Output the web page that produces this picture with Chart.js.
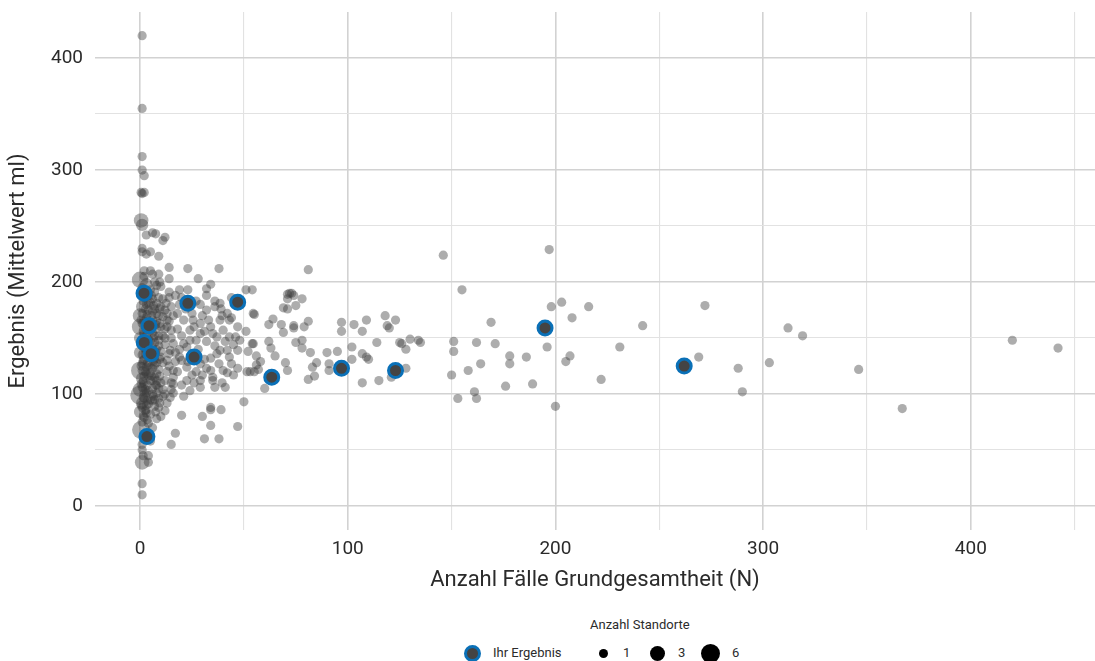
<!DOCTYPE html>
<html lang="de">
<head>
<meta charset="utf-8">
<title>Ergebnis nach Anzahl Fälle</title>
<script src="https://cdn.jsdelivr.net/npm/chart.js@4.4.1/dist/chart.umd.min.js"></script>
<style>
  html, body { margin: 0; padding: 0; background: #fff; }
  #wrap { position: relative; width: 1095px; height: 661px; font-family: Roboto, 'Noto Sans', sans-serif; color: #2b2b2b; }
  #chartBox { position: absolute; left: 0; top: 0; width: 1095px; height: 600px; }
  .lg { position: absolute; font-size: 13px; line-height: 16px; white-space: nowrap; }
  .dot { position: absolute; border-radius: 50%; background: #000; box-sizing: border-box; }
</style>
</head>
<body>
<div id="wrap">
  <div id="chartBox"><canvas id="scatterChart"></canvas></div>
  <div class="lg" style="left:590px; top:617px;">Anzahl Standorte</div>
  <div class="dot" style="left:463.5px; top:644.5px; width:17px; height:17px; background:#444; border:3px solid #0a70b7;"></div>
  <div class="lg" style="left:493px; top:645px;">Ihr Ergebnis</div>
  <div class="dot" style="left:598.5px; top:648.5px; width:9px; height:9px;"></div>
  <div class="lg" style="left:623px; top:645px;">1</div>
  <div class="dot" style="left:649.5px; top:645.5px; width:15px; height:15px;"></div>
  <div class="lg" style="left:678px; top:645px;">3</div>
  <div class="dot" style="left:700.5px; top:643.5px; width:19px; height:19px;"></div>
  <div class="lg" style="left:732px; top:645px;">6</div>
</div>
<script>
// [N, Mittelwert ml, Anzahl Standorte]
const saeuleNahNull = [
  [1,420,1],[1,355,1],[1,312,1],[1,300,1],[2,295,1],[0.5,280,1],[2,280,1],[1,279,1],
  [0.5,255,3],[1,251,2],[3,242,1],[6,244,1],[7.5,243,1],[1,230,1],[1,227,1],[5,227,1],[3,225,1],[9,223,1],
  [2,210,1],[5,210,1],[6,207,1],[9,207,1],[0,202,4],[7,200,1],[3,198,2],[1,195,1],[10,196,1],[8,197,1],
  [5,193,1],[2,186,1],[8,181,1],[5,182,1],[1,178,2],[4,175,1],[7,176,1],[0,170,3],[3,168,1],[6,166,1],
  [9,170,1],[1,163,1],[0,160,4],[5,157,1],[8,158,1],[2,154,1],[7,152,1],[0,150,2],[4,149,1],[9,148,1],
  [1,143,1],[6,142,1],[3,139,1],[8,140,1],[0,137,2],[5,134,1],[2,131,1],[7,131,1],[10,133,1],[1,127,1],
  [4,126,1],[0,121,5],[6,123,1],[9,122,1],[3,118,1],[1,114,2],[7,115,1],[5,112,1],[2,109,1],[8,108,1],
  [0,104,3],[4,103,1],[0,99,6],[6,100,1],[2,96,1],[9,96,1],[1,92,2],[4,91,1],[7,89,1],[3,86,1],
  [0,84,2],[5,82,1],[2,79,1],[8,78,1],[1,75,1],[4,74,1],[0.5,68,5],[6,70,1],[2,63,1],[5,58,1],
  [1,55,1],[1,50,1],[1.5,45,1],[4,45,1],[1,39,3],[4,39,1],[1,20,1],[1,10,1],
  [2,205,1],[4,188,1],[6,185,1],[3,180,1],[8,172,1],[2,165,1],[10,160,1],[4,161,1],[6,155,1],[3,146,1],
  [9,143,1],[5,138,1],[1,135,1],[7,126,1],[3,124,1],[8,118,1],[2,116,1],[5,119,1],[1,106,1],[6,105,1],
  [3,101,1],[8,101,1],[5,95,1],[1,88,1],[3,83,1],
  [11,185,1],[12,175,1],[13,160,1],[11,152,1],[12,144,1],[14,136,1],[11,128,1],[13,120,1],[12,112,1],
  [10,110,1],[11,98,1],[13,92,1],[12,85,1],[10,80,1],[9,88,1],[7,95,1],[6,112,1],[8,128,1],[4,133,1],
  [2,141,1],[7,146,1],[3,152,1],[5,163,1],[1,172,1],[6,174,1],[4,181,1],[2,190,1],[7,191,1],[9,186,1],
  [10,178,1],[8,165,1],[3,158,1],[9,152,1],[5,147,1],[1,121,1],[4,116,1],[8,112,1],[2,101,1],[6,94,1],
  [3,90,1],[9,105,1],[5,124,1],[10,138,1],[13,172,1],[14,165,1],[12,158,1],[15,150,1],[14,125,1],
  [15,110,1],[12,100,1]
];

const saeuleDicht = [
  [0.5,188,1],[1.5,183,1],[2.5,176,1],[3.5,171,1],[0.5,166,1],[2.5,161,1],[1.5,156,1],[3.5,148,1],
  [0.5,145,1],[2.5,136,1],[1.5,130,1],[3.5,128,1],[0.5,125,1],[2.5,120,1],[1.5,111,1],[3.5,108,1],
  [0.5,109,1],[2.5,104,1],[1.5,97,1],[3.5,94,1],[0.5,90,1],[2.5,85,1],[1.5,80,1],[3.5,77,1],
  [5.5,188,1],[6.5,179,1],[5.5,170,1],[7.5,162,1],[6.5,150,1],[7.5,137,1],[6.5,129,1],[5.5,116,1],
  [7.5,108,1],[6.5,98,1],[7.5,84,1],[9.5,200,1],[9.5,176,1],[9.5,163,1],[9.5,131,1],[9.5,116,1],[9.5,92,1]
];

const kernbereich = [
  [12,240,1],[11,237,1],[14,213,1],[23,212,1],[38,212,1],[14,203,1],[28,203,1],[34,198,1],[32,194,1],
  [19,193,1],[23,193,1],[14,191,1],[32,188,1],[36,183,1],[51,193,1],[14,186,1],[54,193,1],
  [43,166,1],[39.5,170,1],[54.5,172,1],[46,151,1],[52,138,1],[54.5,145,1],[56,134,1],[58,129,1],
  [35,154,1],[25.5,166,1],[29,154,1],[22.5,142,1],[16,145,1],[13,166,1],[16,121,1],[22.5,112,1],
  [29,106,1],[35,112,1],[39.5,110,1],[42,119,1],[34,121,1],[38.5,139,1],[43,133,1],[47,123,1],
  [20,130,1],[16,101,1],[11,104,1],[14.5,97,1],[20,81,1],[15,55,1],[17,65,1],[30,80,1],[34,86,1],
  [39,86,1],[34,72,1],[47,71,1],[31,60,1],[38,60,1],[50,93,1],[51.5,120,1],[55,120,1],[60,105,1],
  [12.5,181,1],[15,178,1],[18,172,1],[29,180,1],[32,175,1],[36,178,1],[38.5,181,1],[42,172,1],
  [44,168,1],[51,156,1],[21,166,1],[11,169,1],[15,157,1],[24,157,1],[29,163,1],[34,160,1],
  [38.5,166,1],[47,160,1],[43,151,1],[37,151,1],[32,147,1],[21,145,1],[27,148,1],[12,150,1],
  [14.5,139,1],[19,133,1],[17,129,1],[22.5,124,1],[29,127,1],[34,132,1],[37,136,1],[42,139,1],
  [47,139,1],[44,127,1],[40,121,1],[35,115,1],[29,112,1],[16,115,1],[15,104,1],[21,98,1],
  [36,106,1],[41,106,1],[45,117,1],[34,88,1],[55,171,1],[54,145,1],[56,126,1],[57,122,1],[53,120,1]
];

const kernDicht = [
  [17,188,1],[19,180,1],[22,176,1],[25,172,1],[27,183,1],[18,158,1],[20,152,1],[24,148,1],[26,160,1],
  [30,170,1],[33,166,1],[31,156,1],[28,140,1],[25,136,1],[19,140,1],[17,137,1],[23,129,1],[27,120,1],
  [31,131,1],[32,123,1],[25,117,1],[18,120,1],[20,108,1],[24,103,1],[26,110,1],[30,117,1],[38,127,1],
  [36,143,1],[40,157,1],[41,147,1],[45,144,1],[48,148,1],[39,176,1],[44,186,1],[16,170,1],[20,186,1],
  [13,130,1],[16,109,1]
];

const mittelbereich = [
  [81,211,1],[72,190,1],[74,188,1],[71,185,1],[78,185,1],[69,177,1],[71,176,1],[75,179,1],[64,167,1],
  [62,162,1],[68,162,1],[74,161,1],[74,159,1],[79,160,1],[81,165,1],[69,155,1],[62,147,1],[75,146,1],
  [78,148,1],[63,141,1],[78,141,1],[65,134,1],[82,137,1],[70,128,1],[71,121,1],[85,128,1],[83,124,1],
  [84,116,1],[81,113,1],[90,137,1],[95,138,1],[91,127,1],[91,121,1],[97,164,1],[97,156,1],[103,162,1],
  [107,156,1],[109,166,1],[102,142,1],[102,131,1],[107,136,1],[109,133,1],[110,131,1],[114,146,1],
  [107,110,1],[115,112,1],[118,170,1],[123,166,1],[119,161,1],[120,159,1],[125,146,1],[126,145,1],
  [128,140,1],[130,149,1],[134,148,1],[135,146,1],[128,123,1],[121,115,1],[71,189,1],[73,190,1]
];

const aussenbereich = [
  [146,224,1],[197,229,1],[155,193,1],[169,164,1],[198,178,1],[203,182,1],[216,178,1],[208,168,1],
  [242,161,1],[272,179,1],[151,147,1],[151,138,1],[162,146,1],[171,145,1],[196,142,1],[231,142,1],
  [178,134,1],[186,133,1],[178,127,1],[164,127,1],[158,121,1],[150,117,1],[207,134,1],[205,129,1],
  [269,133,1],[288,123,1],[290,102,1],[222,113,1],[176,107,1],[189,109,1],[161,102,1],[153,96,1],
  [162,96,1],[200,89,1],[312,159,1],[319,152,1],[303,128,1],[346,122,1],[367,87,1],[420,148,1],[442,141,1]
];

// Ihr Ergebnis [N, Mittelwert ml]
const ihrErgebnis = [
  [1.9,190],[4.3,161],[2,146],[5.3,136],[3.3,62],[23,181],[26,133],[47,182],
  [63.4,115],[97,123],[123,121],[195,159],[262,125]
];

const gitterX = [0, 50, 100, 150, 200, 250, 300, 350, 400, 450];
const gitterY = [0, 50, 100, 150, 200, 250, 300, 350, 400];

const alleStandorte = [...saeuleNahNull, ...saeuleDicht, ...kernbereich, ...kernDicht, ...mittelbereich, ...aussenbereich]
  .map(p => ({ x: p[0], y: p[1], n: p[2] }));

function radiusFor(n) {
  return 4.6 * Math.pow(n, 0.42);
}

const fontFamily = "Roboto, 'Noto Sans', sans-serif";
const textColor = '#2b2b2b';

const gridColor = ctx => (ctx.tick && ctx.tick.value % 100 === 0) ? '#d2d2d2' : '#e2e2e2';
const gridWidth = ctx => (ctx.tick && ctx.tick.value % 100 === 0) ? 1.6 : 1.1;

new Chart(document.getElementById('scatterChart'), {
  type: 'scatter',
  data: {
    datasets: [
      {
        label: 'Ihr Ergebnis',
        data: ihrErgebnis.map(p => ({ x: p[0], y: p[1] })),
        pointRadius: 7,
        pointBackgroundColor: '#444444',
        pointBorderColor: '#0a70b7',
        pointBorderWidth: 3
      },
      {
        label: 'Anzahl Standorte',
        data: alleStandorte,
        pointRadius: ctx => radiusFor(ctx.raw ? ctx.raw.n : 1),
        pointBackgroundColor: 'rgba(60,60,60,0.42)',
        pointBorderWidth: 0
      }
    ]
  },
  options: {
    responsive: true,
    maintainAspectRatio: false,
    animation: false,
    events: [],
    // no extra room for the point radius, the panel runs to the edge
    layout: { autoPadding: false, padding: { top: 12, right: 0, bottom: 0, left: 0 } },
    plugins: { legend: { display: false }, tooltip: { enabled: false } },
    scales: {
      x: {
        type: 'linear',
        min: -21.7,
        max: 459.8,
        afterBuildTicks: s => { s.ticks = gitterX.map(v => ({ value: v })); },
        afterFit: s => { s.height = 70; s.paddingLeft = 0; s.paddingRight = 0; },
        border: { display: false },
        grid: { color: gridColor, lineWidth: gridWidth, drawTicks: false },
        ticks: {
          autoSkip: false, maxRotation: 0, padding: 8,
          color: textColor, font: { family: fontFamily, size: 19 },
          callback: v => v % 100 === 0 ? v : ''
        },
        title: {
          display: true, text: 'Anzahl Fälle Grundgesamtheit (N)', color: textColor,
          font: { family: fontFamily, size: 22 }, padding: { top: 0, bottom: 6 }
        }
      },
      y: {
        type: 'linear',
        min: -21.4,
        max: 441.1,
        afterBuildTicks: s => { s.ticks = gitterY.map(v => ({ value: v })); },
        afterFit: s => { s.width = 95; s.paddingTop = 0; s.paddingBottom = 0; },
        border: { display: false },
        grid: { color: gridColor, lineWidth: gridWidth, drawTicks: false },
        ticks: {
          autoSkip: false, padding: 12,
          color: textColor, font: { family: fontFamily, size: 19 },
          callback: v => v % 100 === 0 ? v : ''
        },
        title: {
          display: true, text: 'Ergebnis (Mittelwert ml)', color: textColor,
          font: { family: fontFamily, size: 22 }, padding: { top: 5, bottom: 0 }
        }
      }
    }
  }
});
</script>
</body>
</html>
